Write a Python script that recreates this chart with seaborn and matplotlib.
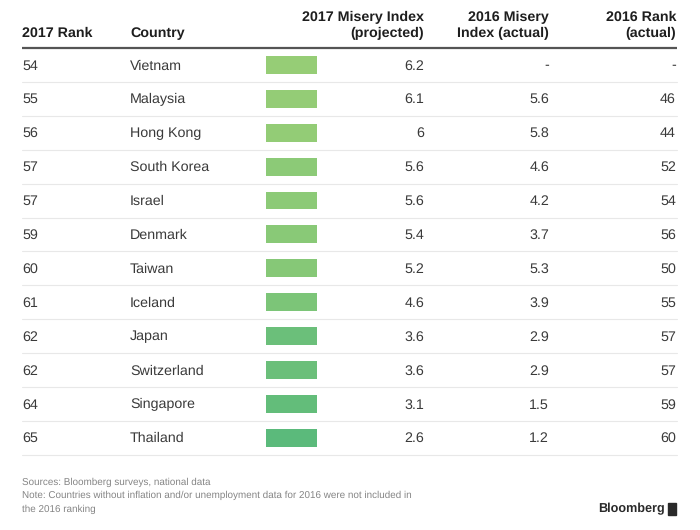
import numpy as np
import matplotlib
matplotlib.use("Agg")
import matplotlib.pyplot as plt
import seaborn as sns
from matplotlib.colors import LinearSegmentedColormap
from matplotlib import font_manager
from matplotlib.patches import Rectangle

# table data
rank_2017 = [54, 55, 56, 57, 57, 59, 60, 61, 62, 62, 64, 65]
countries = ["Vietnam", "Malaysia", "Hong Kong", "South Korea", "Israel", "Denmark",
             "Taiwan", "Iceland", "Japan", "Switzerland", "Singapore", "Thailand"]
misery_2017 = [6.2, 6.1, 6.0, 5.6, 5.6, 5.4, 5.2, 4.6, 3.6, 3.6, 3.1, 2.6]
misery_2016 = [None, 5.6, 5.8, 4.6, 4.2, 3.7, 5.3, 3.9, 2.9, 2.9, 1.5, 1.2]
rank_2016 = [None, 46, 44, 52, 54, 56, 50, 55, 57, 57, 59, 60]
headers = ["2017 Rank", "Country", "2017 Misery Index\n(projected)",
           "2016 Misery\nIndex (actual)", "2016 Rank\n(actual)"]
notes = ["Sources: Bloomberg surveys, national data",
         "Note: Countries without inflation and/or unemployment data for 2016 were not included in",
         "the 2016 ranking"]

sns.set_theme(style="white")
names = {f.name for f in font_manager.fontManager.ttflist}
plt.rcParams["font.family"] = ["Liberation Sans", "DejaVu Sans"]
plt.rcParams["text.hinting"] = "no_hinting"
narrow = "Liberation Sans Narrow" in names

def fmt(v):
    return "-" if v is None else f"{v:g}"

W, H = 700, 530
fig = plt.figure(figsize=(7, 5.3), dpi=100)
fig.patch.set_facecolor("white")

# colour column (value encoded as green shade)
top, pitch = 48, 33.9
n = len(countries)
bx = fig.add_axes([258 / W, 1 - (top + n * pitch) / H, 67 / W, n * pitch / H])
cmap = LinearSegmentedColormap.from_list("greens", ["#5bba7b", "#96cd76"])
sns.heatmap(np.array(misery_2017)[:, None], ax=bx, cmap=cmap, vmin=min(misery_2017),
            vmax=max(misery_2017), cbar=False, linewidths=11.5, linecolor="white",
            xticklabels=False, yticklabels=False)
bx.axis("off")

# text / rules layer
ax = fig.add_axes([0, 0, 1, 1])
ax.set_xlim(0, W)
ax.set_ylim(H, 0)
ax.axis("off")
ax.patch.set_alpha(0)

xl, xr = 22, 677
col_x = [22, 130, 424, 549, 676]
col_ha = ["left", "left", "right", "right", "right"]

for x, ha, h in zip(col_x, col_ha, headers):
    lines = h.split("\n")
    for j, line in enumerate(reversed(lines)):
        ax.text(x, 33.5 - j * 16, line, ha=ha, va="center", fontsize=10.3,
                fontweight="bold", color="#1e1e1e")

ax.plot([xl, xr], [top, top], color="#555555", lw=1.6, solid_capstyle="butt")

for i in range(n):
    y = top + (i + 0.5) * pitch + 0.8
    row = [str(rank_2017[i]), countries[i], fmt(misery_2017[i]),
           fmt(misery_2016[i]), fmt(rank_2016[i])]
    for x, ha, s in zip(col_x, col_ha, row):
        ax.text(x, y, s, ha=ha, va="center", fontsize=10.3, color="#3a3a3a")
    yb = top + (i + 1) * pitch
    ax.plot([xl, xr], [yb, yb], color="#e8e8e8", lw=0.8)

if narrow:
    note_kw = dict(family="Liberation Sans Narrow", fontsize=8.6)
    logo_kw = dict(family="Liberation Sans Narrow", fontsize=10.3)
else:
    note_kw = dict(fontsize=7.1)
    logo_kw = dict(fontsize=9.1)

for j, s in enumerate(notes):
    ax.text(22, 482 + j * 13.5, s, ha="left", va="center", color="#858585", **note_kw)

ax.text(665, 509, "Bloomberg", ha="right", va="center", fontweight="bold",
        color="#2a2a2a", **logo_kw)
ax.add_patch(Rectangle((668, 503), 8, 12, color="#2a2a2a"))

fig.savefig("out.png", dpi=100, facecolor="white")
